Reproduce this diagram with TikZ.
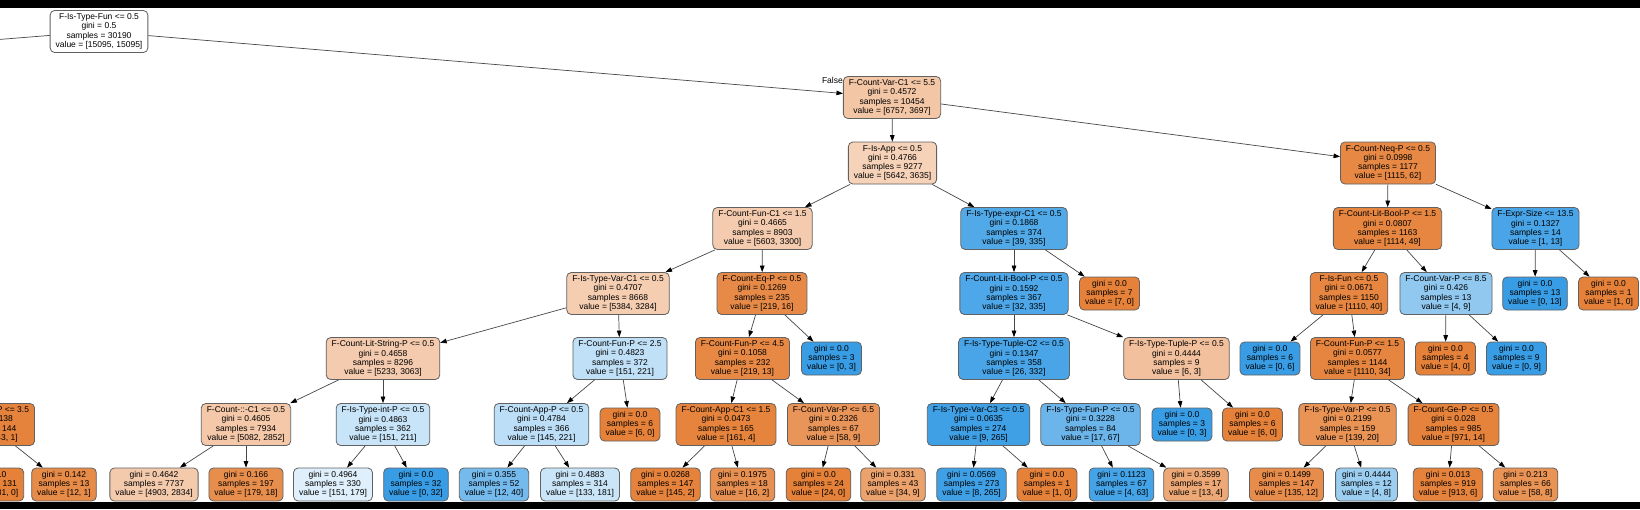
\documentclass[tikz,border=0pt]{standalone}
\usepackage{fontspec}
\setmainfont{Liberation Sans}
\usetikzlibrary{arrows.meta}
\definecolor{orc}{RGB}{229,129,57}
\definecolor{blc}{RGB}{57,157,229}
\newcommand\nfont{\fontsize{8.5}{9.2}\selectfont}
\newcommand\spx[4]{#1\\gini = #2\\samples = #3\\value = [#4]}
\newcommand\lfx[3]{gini = #1\\samples = #2\\value = [#3]}
\tikzset{
  tn/.style={draw=black!62, line width=0.8pt, rounded corners=4.5pt, align=center,
    font=\nfont, inner xsep=5.5pt, inner ysep=2pt, minimum height=42pt, text=black},
  lf/.style={tn, minimum height=33pt},
  ed/.style={draw=black!72, line width=0.7pt, -{Triangle[length=6.5pt,width=4.6pt,color=black]}}
}
\begin{document}
\begin{tikzpicture}[x=1pt,y=-1pt]
\useasboundingbox (0,0) rectangle (1640,509);
\clip (0,0) rectangle (1640,509);
\fill[white] (0,0) rectangle (1640,509);
% rank 0
\node[tn, fill=white] (n0) at (99,31.5) {\spx{F-Is-Type-Fun <= 0.5}{0.5}{30190}{15095, 15095}};
\coordinate (nL) at (-726,97.5);
% rank 1
\node[tn, fill=orc!45!white] (A) at (892,97.5) {\spx{F-Count-Var-C1 <= 5.5}{0.4572}{10454}{6757, 3697}};
% rank 2
\node[tn, fill=orc!36!white] (B) at (892.5,163) {\spx{F-Is-App <= 0.5}{0.4766}{9277}{5642, 3635}};
\node[tn, fill=orc!94!white] (C) at (1388,163) {\spx{F-Count-Neq-P <= 0.5}{0.0998}{1177}{1115, 62}};
% rank 3
\node[tn, fill=orc!41!white] (D) at (762.5,228.5) {\spx{F-Count-Fun-C1 <= 1.5}{0.4665}{8903}{5603, 3300}};
\node[tn, fill=blc!88!white] (E) at (1014,228.5) {\spx{F-Is-Type-expr-C1 <= 0.5}{0.1868}{374}{39, 335}};
\node[tn, fill=orc!96!white] (U) at (1387.5,228.5) {\spx{F-Count-Lit-Bool-P <= 1.5}{0.0807}{1163}{1114, 49}};
\node[tn, fill=blc!92!white] (V) at (1535.5,228.5) {\spx{F-Expr-Size <= 13.5}{0.1327}{14}{1, 13}};
% rank 4
\node[tn, fill=orc!39!white] (F) at (618,293.5) {\spx{F-Is-Type-Var-C1 <= 0.5}{0.4707}{8668}{5384, 3284}};
\node[tn, fill=orc!93!white] (G) at (762,293.5) {\spx{F-Count-Eq-P <= 0.5}{0.1269}{235}{219, 16}};
\node[tn, fill=blc!90!white] (P) at (1014,293.5) {\spx{F-Count-Lit-Bool-P <= 0.5}{0.1592}{367}{32, 335}};
\node[lf, fill=orc] (l13) at (1109.5,293.5) {\lfx{0.0}{7}{7, 0}};
\node[tn, fill=orc!96!white] (W) at (1349,293.5) {\spx{F-Is-Fun <= 0.5}{0.0671}{1150}{1110, 40}};
\node[tn, fill=blc!56!white] (X) at (1446,293.5) {\spx{F-Count-Var-P <= 8.5}{0.426}{13}{4, 9}};
\node[lf, fill=blc] (l27) at (1535,293.5) {\lfx{0.0}{13}{0, 13}};
\node[lf, fill=orc] (l28) at (1608.5,293.5) {\lfx{0.0}{1}{1, 0}};
% rank 5
\node[tn, fill=orc!41!white] (H) at (383,358.5) {\spx{F-Count-Lit-String-P <= 0.5}{0.4658}{8296}{5233, 3063}};
\node[tn, fill=blc!32!white] (I) at (620,358.5) {\spx{F-Count-Fun-P <= 2.5}{0.4823}{372}{151, 221}};
\node[tn, fill=orc!94!white] (M) at (742.5,358.5) {\spx{F-Count-Fun-P <= 4.5}{0.1058}{232}{219, 13}};
\node[lf, fill=blc] (l8) at (831.5,358.5) {\lfx{0.0}{3}{0, 3}};
\node[tn, fill=blc!92!white] (Q) at (1014,358.5) {\spx{F-Is-Type-Tuple-C2 <= 0.5}{0.1347}{358}{26, 332}};
\node[tn, fill=orc!50!white] (R) at (1176.5,358.5) {\spx{F-Is-Type-Tuple-P <= 0.5}{0.4444}{9}{6, 3}};
\node[lf, fill=blc] (l20) at (1270,358.5) {\lfx{0.0}{6}{0, 6}};
\node[tn, fill=orc!97!white] (Y) at (1357.5,358.5) {\spx{F-Count-Fun-P <= 1.5}{0.0577}{1144}{1110, 34}};
\node[lf, fill=orc] (l25) at (1445.5,358.5) {\lfx{0.0}{4}{4, 0}};
\node[lf, fill=blc] (l26) at (1516.5,358.5) {\lfx{0.0}{9}{0, 9}};
% rank 6
\node[tn, fill=orc!99!white] (PP) at (-11.5,424.5) {\spx{F-Count-Var-P <= 3.5}{0.0138}{144}{143, 1}};
\node[tn, fill=orc!44!white] (J) at (246,424.5) {\spx{F-Count-::-C1 <= 0.5}{0.4605}{7934}{5082, 2852}};
\node[tn, fill=blc!28!white] (K) at (383,424.5) {\spx{F-Is-Type-int-P <= 0.5}{0.4863}{362}{151, 211}};
\node[tn, fill=blc!34!white] (L) at (541.5,424.5) {\spx{F-Count-App-P <= 0.5}{0.4784}{366}{145, 221}};
\node[lf, fill=orc] (l5) at (630,424.5) {\lfx{0.0}{6}{6, 0}};
\node[tn, fill=orc!98!white] (N) at (726,424.5) {\spx{F-Count-App-C1 <= 1.5}{0.0473}{165}{161, 4}};
\node[tn, fill=orc!84!white] (O) at (833.5,424.5) {\spx{F-Count-Var-P <= 6.5}{0.2326}{67}{58, 9}};
\node[tn, fill=blc!97!white] (S) at (978.5,424.5) {\spx{F-Is-Type-Var-C3 <= 0.5}{0.0635}{274}{9, 265}};
\node[tn, fill=blc!75!white] (T) at (1090.5,424.5) {\spx{F-Is-Type-Fun-P <= 0.5}{0.3228}{84}{17, 67}};
\node[lf, fill=blc] (l18) at (1182,424.5) {\lfx{0.0}{3}{0, 3}};
\node[lf, fill=orc] (l19) at (1252.5,424.5) {\lfx{0.0}{6}{6, 0}};
\node[tn, fill=orc!86!white] (Z) at (1347.5,424.5) {\spx{F-Is-Type-Var-P <= 0.5}{0.2199}{159}{139, 20}};
\node[tn, fill=orc!99!white] (AA) at (1453.5,424.5) {\spx{F-Count-Ge-P <= 0.5}{0.028}{985}{971, 14}};
% rank 7
\node[lf, fill=orc] (pl1) at (-11,484.5) {\lfx{0.0}{131}{131, 0}};
\node[lf, fill=orc!92!white] (pl2) at (64,484.5) {\lfx{0.142}{13}{12, 1}};
\node[lf, fill=orc!42!white] (l1) at (154,484.5) {\lfx{0.4642}{7737}{4903, 2834}};
\node[lf, fill=orc!90!white] (l2) at (246,484.5) {\lfx{0.166}{197}{179, 18}};
\node[lf, fill=blc!16!white] (l3) at (333,484.5) {\lfx{0.4964}{330}{151, 179}};
\node[lf, fill=blc] (l4) at (416,484.5) {\lfx{0.0}{32}{0, 32}};
\node[lf, fill=blc!70!white] (l6) at (494,484.5) {\lfx{0.355}{52}{12, 40}};
\node[lf, fill=blc!27!white] (l7) at (580,484.5) {\lfx{0.4883}{314}{133, 181}};
\node[lf, fill=orc!99!white] (l9) at (665.5,484.5) {\lfx{0.0268}{147}{145, 2}};
\node[lf, fill=orc!88!white] (l10) at (742.5,484.5) {\lfx{0.1975}{18}{16, 2}};
\node[lf, fill=orc] (l11) at (818.5,484.5) {\lfx{0.0}{24}{24, 0}};
\node[lf, fill=orc!74!white] (l12) at (893,484.5) {\lfx{0.331}{43}{34, 9}};
\node[lf, fill=blc!97!white] (l14) at (971.5,484.5) {\lfx{0.0569}{273}{8, 265}};
\node[lf, fill=orc] (l15) at (1047,484.5) {\lfx{0.0}{1}{1, 0}};
\node[lf, fill=blc!94!white] (l16) at (1121.5,484.5) {\lfx{0.1123}{67}{4, 63}};
\node[lf, fill=orc!69!white] (l17) at (1196,484.5) {\lfx{0.3599}{17}{13, 4}};
\node[lf, fill=orc!91!white] (l21) at (1286.5,484.5) {\lfx{0.1499}{147}{135, 12}};
\node[lf, fill=blc!50!white] (l22) at (1366.5,484.5) {\lfx{0.4444}{12}{4, 8}};
\node[lf, fill=orc!99!white] (l23) at (1448,484.5) {\lfx{0.013}{919}{913, 6}};
\node[lf, fill=orc!86!white] (l24) at (1525.5,484.5) {\lfx{0.213}{66}{58, 8}};
% label
\node[font=\nfont, anchor=east, inner sep=0pt] (fl) at (843,80) {False};
% edges
\draw[ed] (n0) -- (nL);
\draw[ed] (n0) -- (A);
\draw[ed] (A) -- (B);
\draw[ed] (A) -- (C);
\draw[ed] (B) -- (D);
\draw[ed] (B) -- (E);
\draw[ed] (D) -- (F);
\draw[ed] (D) -- (G);
\draw[ed] (F) -- (H);
\draw[ed] (F) -- (I);
\draw[ed] (H) -- (J);
\draw[ed] (H) -- (K);
\draw[ed] (J) -- (l1);
\draw[ed] (J) -- (l2);
\draw[ed] (K) -- (l3);
\draw[ed] (K) -- (l4);
\draw[ed] (I) -- (L);
\draw[ed] (I) -- (l5);
\draw[ed] (L) -- (l6);
\draw[ed] (L) -- (l7);
\draw[ed] (G) -- (M);
\draw[ed] (G) -- (l8);
\draw[ed] (M) -- (N);
\draw[ed] (M) -- (O);
\draw[ed] (N) -- (l9);
\draw[ed] (N) -- (l10);
\draw[ed] (O) -- (l11);
\draw[ed] (O) -- (l12);
\draw[ed] (E) -- (P);
\draw[ed] (E) -- (l13);
\draw[ed] (P) -- (Q);
\draw[ed] (P) -- (R);
\draw[ed] (Q) -- (S);
\draw[ed] (Q) -- (T);
\draw[ed] (S) -- (l14);
\draw[ed] (S) -- (l15);
\draw[ed] (T) -- (l16);
\draw[ed] (T) -- (l17);
\draw[ed] (R) -- (l18);
\draw[ed] (R) -- (l19);
\draw[ed] (C) -- (U);
\draw[ed] (C) -- (V);
\draw[ed] (U) -- (W);
\draw[ed] (U) -- (X);
\draw[ed] (W) -- (l20);
\draw[ed] (W) -- (Y);
\draw[ed] (Y) -- (Z);
\draw[ed] (Y) -- (AA);
\draw[ed] (Z) -- (l21);
\draw[ed] (Z) -- (l22);
\draw[ed] (AA) -- (l23);
\draw[ed] (AA) -- (l24);
\draw[ed] (X) -- (l25);
\draw[ed] (X) -- (l26);
\draw[ed] (V) -- (l27);
\draw[ed] (V) -- (l28);
\draw[ed] (PP) -- (pl1);
\draw[ed] (PP) -- (pl2);
% black bands
\fill[black] (0,0) rectangle (1640,8);
\fill[black] (0,502) rectangle (1640,509);
\end{tikzpicture}
\end{document}
